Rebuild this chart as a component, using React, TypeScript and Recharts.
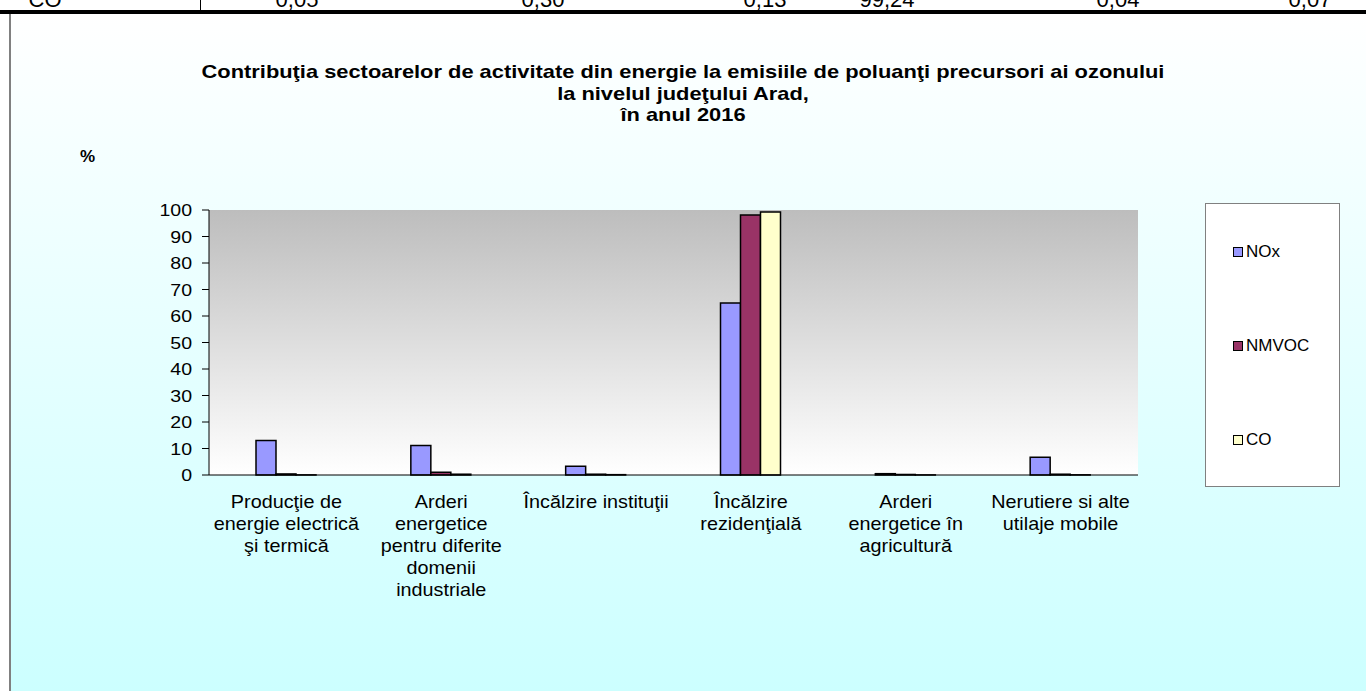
import React from "react";
import {
  BarChart,
  Bar,
  XAxis,
  YAxis,
  CartesianGrid,
  Legend,
} from "recharts";

// sectors (tick labels, line breaks as in the source chart)
const categories = [
  "Producţie de\nenergie electrică\nşi termică",
  "Arderi\nenergetice\npentru diferite\ndomenii\nindustriale",
  "Încălzire instituţii",
  "Încălzire\nrezidenţială",
  "Arderi\nenergetice în\nagricultură",
  "Nerutiere si alte\nutilaje mobile",
];

// % contribution per pollutant
const nox = [13.0, 11.1, 3.3, 64.9, 0.5, 6.7];
const nmvoc = [0.4, 1.0, 0.3, 98.1, 0.2, 0.3];
const co = [0.05, 0.3, 0.13, 99.24, 0.04, 0.07];

const yTicks = [0, 10, 20, 30, 40, 50, 60, 70, 80, 90, 100];

// remnant of the table row above the chart
const tableRow = ["CO", "0,05", "0,30", "0,13", "99,24", "0,04", "0,07"];
const tableRowX = [45, 297, 543, 765, 887, 1118, 1310];

const titleLines = [
  "Contribuţia sectoarelor de activitate din energie la emisiile de poluanţi precursori ai ozonului",
  "la nivelul judeţului Arad,",
  "în anul 2016",
];

const series = [
  { key: "nox", name: "NOx", color: "#9999ff" },
  { key: "nmvoc", name: "NMVOC", color: "#993366" },
  { key: "co", name: "CO", color: "#ffffcc" },
];

const data = categories.map((name, i) => ({
  name,
  nox: nox[i],
  nmvoc: nmvoc[i],
  co: co[i],
}));

const FONT = "Arial, 'Liberation Sans', sans-serif";

const CategoryTick = (props: any) => {
  const { x, y, payload } = props;
  const lines = String(payload.value).split("\n");
  return (
    <g transform={`translate(${x},${y})`}>
      {lines.map((l, i) => (
        <text
          key={i}
          transform={`translate(0,${25 + i * 22}) scale(1.1,1)`}
          textAnchor="middle"
          fontFamily={FONT}
          fontSize={18}
          fill="#000"
        >
          {l}
        </text>
      ))}
    </g>
  );
};

const ValueTick = (props: any) => {
  const { x, y, payload } = props;
  return (
    <text
      transform={`translate(${x - 8},${y}) scale(1.15,1)`}
      textAnchor="end"
      dy="0.36em"
      fontFamily={FONT}
      fontSize={17}
      fill="#000"
    >
      {payload.value}
    </text>
  );
};

const LegendBox = (props: any) => {
  const items = props.payload || [];
  const order = series.map((s) => s.name);
  const sorted = [...items].sort(
    (a: any, b: any) => order.indexOf(a.value) - order.indexOf(b.value)
  );
  return (
    <div
      style={{
        position: "absolute",
        left: 1205,
        top: 203,
        width: 133,
        height: 282,
        background: "#fff",
        border: "1px solid #808080",
        fontFamily: FONT,
        fontSize: 17,
      }}
    >
      {sorted.map((it: any, i: number) => (
        <div
          key={i}
          style={{
            position: "absolute",
            left: 27,
            top: 38 + i * 94,
            display: "flex",
            alignItems: "center",
            whiteSpace: "nowrap",
          }}
        >
          <span
            style={{
              display: "inline-block",
              width: 8,
              height: 8,
              border: "1.5px solid #000",
              background: it.color,
              marginRight: 3,
            }}
          />
          {it.value}
        </div>
      ))}
    </div>
  );
};

export default function App() {
  return (
    <div
      style={{
        position: "absolute",
        left: 0,
        top: 0,
        width: 1366,
        height: 691,
        overflow: "hidden",
        background: "#fff",
        fontFamily: FONT,
      }}
    >
      {/* clipped table row */}
      {tableRow.map((t, i) => (
        <div
          key={i}
          style={{
            position: "absolute",
            top: -12,
            left: tableRowX[i] - 40,
            width: 80,
            textAlign: "center",
            fontSize: 22,
            lineHeight: "24px",
          }}
        >
          {t}
        </div>
      ))}
      <div style={{ position: "absolute", left: 200, top: 0, width: 1, height: 10, background: "#000" }} />
      <div style={{ position: "absolute", left: 0, top: 10, width: 1366, height: 4, background: "#000" }} />

      {/* chart frame */}
      <div
        style={{
          position: "absolute",
          left: 9,
          top: 14,
          width: 1357,
          height: 677,
          borderLeft: "2px solid #808080",
          background: "linear-gradient(to bottom, #ffffff 0%, #ccffff 100%)",
        }}
      />

      <div
        style={{
          position: "absolute",
          left: 0,
          top: 61,
          width: 1366,
          textAlign: "center",
          fontWeight: "bold",
          fontSize: 19,
          lineHeight: "21.5px",
          transform: "scaleX(1.15)",
        }}
      >
        {titleLines.map((l, i) => (
          <div key={i}>{l}</div>
        ))}
      </div>
      <div
        style={{
          position: "absolute",
          left: 80,
          top: 147,
          fontWeight: "bold",
          fontSize: 17,
        }}
      >
        %
      </div>

      <div style={{ position: "absolute", left: 0, top: 0 }}>
        <BarChart
          width={1366}
          height={691}
          data={data}
          margin={{ top: 210, right: 228, left: 149, bottom: 86 }}
          barGap={0}
          barSize={20}
        >
          <defs>
            <linearGradient id="plotBg" x1="0" y1="0" x2="0" y2="1">
              <stop offset="0%" stopColor="#bdbdbd" />
              <stop offset="100%" stopColor="#ffffff" />
            </linearGradient>
          </defs>
          <CartesianGrid
            horizontal={false}
            vertical={false}
            fill="url(#plotBg)"
            fillOpacity={1}
          />
          <XAxis
            xAxisId="bounds"
            type="number"
            domain={[0, 6]}
            ticks={[0, 1, 2, 3, 4, 5, 6]}
            tick={false}
            axisLine={false}
            tickLine={{ stroke: "#000" }}
            tickSize={6}
            height={0}
          />
          <XAxis
            dataKey="name"
            interval={0}
            tick={<CategoryTick />}
            tickLine={false}
            axisLine={{ stroke: "#000" }}
            height={130}
          />
          <XAxis
            xAxisId="top"
            orientation="top"
            tick={false}
            tickLine={false}
            axisLine={{ stroke: "#808080", strokeWidth: 2 }}
            height={0}
          />
          <YAxis
            domain={[0, 100]}
            ticks={yTicks}
            interval={0}
            tick={<ValueTick />}
            tickSize={7}
            tickLine={{ stroke: "#000" }}
            axisLine={{ stroke: "#000" }}
            width={60}
          />
          <YAxis
            yAxisId="right"
            orientation="right"
            tick={false}
            tickLine={false}
            axisLine={{ stroke: "#808080", strokeWidth: 2 }}
            width={0}
          />
          {series.map((s) => (
            <Bar
              key={s.key}
              dataKey={s.key}
              name={s.name}
              fill={s.color}
              stroke="#000"
              strokeWidth={1.5}
              isAnimationActive={false}
            />
          ))}
          <Legend content={<LegendBox />} wrapperStyle={{ left: 0, top: 0, width: 0, height: 0 }} />
        </BarChart>
      </div>
    </div>
  );
}
